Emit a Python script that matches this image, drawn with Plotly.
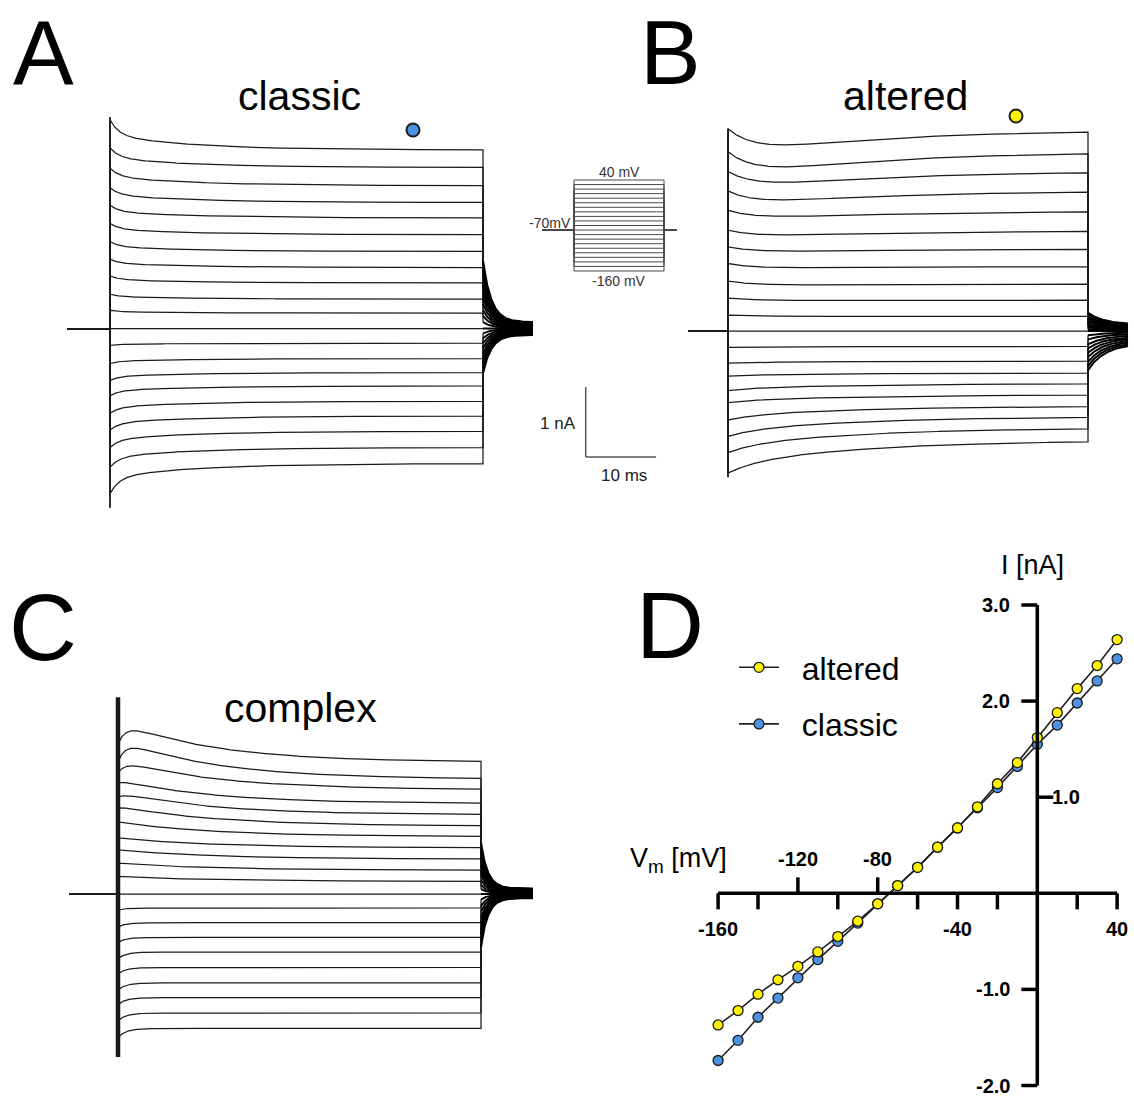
import numpy as np
import plotly.graph_objects as go

W, H = 1134, 1098
FONT = "Liberation Sans, Arial, Helvetica, sans-serif"

# ---------------- data ----------------
V_STEPS = [40, 30, 20, 10, 0, -10, -20, -30, -40, -50, -60, -70,
           -80, -90, -100, -110, -120, -130, -140, -150, -160]   # mV, top -> bottom
T_STEP = 53.0      # ms, duration of the voltage step
V_HOLD = -70

# Panel A (classic): steady state current (nA, relative to holding) and relaxation amplitudes
A_SS = [2.55, 2.30, 2.04, 1.80, 1.58, 1.34, 1.10, 0.87, 0.65, 0.42, 0.22, 0.00,
        -0.21, -0.43, -0.63, -0.82, -1.04, -1.25, -1.47, -1.70, -1.93]
A_FAST = [0.22, 0.14, 0.12, 0.10, 0.09, 0.08, 0.07, 0.06, 0.05, 0.035, 0.02, 0.0,
          -0.015, -0.035, -0.055, -0.07, -0.085, -0.10, -0.115, -0.14, -0.23]
A_SLOW = [0.21, 0.14, 0.13, 0.11, 0.09, 0.08, 0.07, 0.06, 0.05, 0.035, 0.02, 0.0,
          -0.015, -0.035, -0.055, -0.07, -0.085, -0.10, -0.115, -0.14, -0.20]
A_TAIL0 = [0.97, 0.88, 0.79, 0.70, 0.62, 0.53, 0.44, 0.35, 0.26, 0.18, 0.09, 0.0,
           -0.07, -0.14, -0.21, -0.28, -0.36, -0.43, -0.50, -0.57, -0.64]
A_RESID = [0.09, 0.08, 0.07, 0.065, 0.055, 0.05, 0.04, 0.03, 0.025, 0.015, 0.01, 0.0,
           -0.01, -0.02, -0.03, -0.04, -0.05, -0.06, -0.07, -0.08, -0.09]
A_CAP = [3.02, -2.56]
A_TAU = dict(fast=1.3, slow=12.0, tail=1.2)

# Panel B (altered)
B_SS = [2.87, 2.56, 2.28, 2.00, 1.71, 1.43, 1.17, 0.92, 0.67, 0.44, 0.21, 0.00,
        -0.22, -0.43, -0.60, -0.75, -0.91, -1.07, -1.22, -1.38, -1.56]
B_FAST = [0.42, 0.40, 0.29, 0.24, 0.15, 0.12, 0.09, 0.08, 0.067, 0.036, 0.015, 0.0,
          -0.004, -0.008, -0.012, -0.027, -0.031, -0.054, -0.077, -0.096, -0.127]
B_SLOW = [-0.40, -0.40, -0.29, -0.24, -0.137, -0.11, -0.06, -0.037, -0.024, -0.007, 0.0, 0.0,
          -0.010, -0.021, -0.031, -0.073, -0.083, -0.146, -0.209, -0.261, -0.344]
B_TAIL0 = [0.26, 0.24, 0.21, 0.19, 0.17, 0.14, 0.12, 0.09, 0.07, 0.05, 0.02, 0.0,
           -0.06, -0.12, -0.19, -0.25, -0.31, -0.37, -0.44, -0.50, -0.56]
B_RESID = [0.09, 0.08, 0.07, 0.065, 0.055, 0.05, 0.04, 0.03, 0.025, 0.015, 0.01, 0.0,
           -0.02, -0.04, -0.06, -0.08, -0.10, -0.12, -0.14, -0.16, -0.18]
B_CAP = [2.89, -2.09]
B_TAU = dict(fast=4.0, slow=20.0, tail=2.5)

# Panel C (complex)
C_SS = [1.88, 1.64, 1.49, 1.29, 1.13, 0.97, 0.82, 0.66, 0.50, 0.34, 0.18, 0.00,
        -0.20, -0.41, -0.62, -0.83, -1.05, -1.27, -1.48, -1.70, -1.92]
C_E0 = [0.26, 0.25, 0.24, 0.30, 0.26, 0.26, 0.21, 0.14, 0.13, 0.10, 0.07, 0.0,
        0.0, 0.0, 0.0, 0.0, 0.0, 0.0, 0.0, 0.0, 0.0]
C_H = [0.32, 0.32, 0.19, 0.04, 0.06, 0.03, 0.0, 0.0, 0.0, 0.0, 0.0, 0.0,
       0.0, 0.0, 0.0, 0.0, 0.0, 0.0, 0.0, 0.0, 0.0]
C_N = [0.0, 0.0, 0.0, 0.0, 0.0, 0.0, 0.0, 0.0, 0.0, 0.0, 0.0, 0.0,
       -0.03, -0.06, -0.07, -0.09, -0.09, -0.10, -0.10, -0.11, -0.13]
C_TAIL0 = [0.73, 0.66, 0.60, 0.53, 0.46, 0.40, 0.33, 0.27, 0.20, 0.13, 0.07, 0.0,
           -0.08, -0.17, -0.25, -0.34, -0.42, -0.51, -0.59, -0.68, -0.76]
C_RESID = [0.08, 0.07, 0.065, 0.06, 0.05, 0.045, 0.04, 0.03, 0.02, 0.015, 0.01, 0.0,
           -0.007, -0.013, -0.02, -0.027, -0.033, -0.04, -0.047, -0.053, -0.06]
C_CAP = [2.81, -2.33]
C_TAU = dict(act=1.2, inact=14.0, neg=1.2, tail=1.0)

# Panel D (I-V relation)
IV_V = [-160, -150, -140, -130, -120, -110, -100, -90, -80, -70, -60,
        -50, -40, -30, -20, -10, 0, 10, 20, 30, 40]
IV_ALTERED = [-1.37, -1.22, -1.05, -0.90, -0.76, -0.61, -0.45, -0.29, -0.11, 0.08, 0.27,
              0.48, 0.68, 0.90, 1.14, 1.36, 1.62, 1.88, 2.13, 2.37, 2.64]
IV_CLASSIC = [-1.74, -1.53, -1.29, -1.09, -0.88, -0.69, -0.50, -0.31, -0.11, 0.08, 0.27,
              0.48, 0.68, 0.89, 1.10, 1.32, 1.55, 1.75, 1.98, 2.21, 2.44]
X_TICKS = [-160, -140, -120, -100, -80, -60, -40, -20, 20, 40]
X_TICKS_UP = [-120, -80]
X_TICK_LABELS = {-160: "-160", -120: "-120", -80: "-80", -40: "-40", 40: "40"}
Y_TICKS = [3.0, 2.0, 1.0, -1.0, -2.0]
Y_TICK_LABELS = {3.0: "3.0", 2.0: "2.0", 1.0: "1.0", -1.0: "-1.0", -2.0: "-2.0"}
Y_TICKS_RIGHT = [1.0]

YELLOW = "#FFF200"
BLUE = "#4D92E0"
TRACE_COLOR = "#1a1a1a"

# ---------------- geometry helpers ----------------
def xdom(p0, p1):
    return [p0 / W, p1 / W]

def ydom(ptop, pbot):
    return [1 - pbot / H, 1 - ptop / H]

def xrng(p0, p1, pzero, s):
    return [(p0 - pzero) / s, (p1 - pzero) / s]

def yrng(ptop, pbot, pzero, s):
    return [(pzero - pbot) / s, (pzero - ptop) / s]

def px(x):
    return x / W

def py(y):
    return 1 - y / H

NA_PX = 70.0   # pixels per nA in the trace panels
PANELS = {
    "A": dict(t0=110, tend=483, i0=328.5, pre=67, post=533, box=(45, 700, 85, 565)),
    "B": dict(t0=728, tend=1088, i0=331.0, pre=688, post=1128, box=(680, 1134, 100, 520)),
    "C": dict(t0=118, tend=481, i0=894.0, pre=69, post=533, box=(45, 560, 680, 1080)),
}
for p in PANELS.values():
    p["sx"] = (p["tend"] - p["t0"]) / T_STEP
    p["t_pre"] = (p["pre"] - p["t0"]) / p["sx"]
    p["t_post"] = (p["post"] - p["tend"]) / p["sx"]

t = np.linspace(0.0, T_STEP, 600)

def build(bodies, tails0, resids, tau_tail, p):
    bx, by, tx, ty = [], [], [], []
    tp = np.linspace(0.0, p["t_post"], 150)
    for body, t0v, rv in zip(bodies, tails0, resids):
        bx += [p["t_pre"], 0.0] + list(t) + [T_STEP, None]
        by += [0.0, 0.0] + list(body) + [t0v, None]
        tx += list(T_STEP + tp) + [None]
        ty += list(rv + (t0v - rv) * np.exp(-tp / tau_tail)) + [None]
    return bx, by, tx, ty

fig = go.Figure()

pA, pB, pC = PANELS["A"], PANELS["B"], PANELS["C"]
bodiesA = [A_SS[i] + A_FAST[i] * np.exp(-t / A_TAU["fast"]) + A_SLOW[i] * np.exp(-t / A_TAU["slow"])
           for i in range(len(V_STEPS))]
bodiesB = [B_SS[i] + B_FAST[i] * np.exp(-t / B_TAU["fast"]) + B_SLOW[i] * np.exp(-t / B_TAU["slow"])
           for i in range(len(V_STEPS))]
bodiesC = [C_SS[i]
           + (C_E0[i] + C_H[i] * (1 - np.exp(-t / C_TAU["act"]))) * np.exp(-t / C_TAU["inact"])
           + C_N[i] * np.exp(-t / C_TAU["neg"])
           for i in range(len(V_STEPS))]

panel_traces = [
    (build(bodiesA, A_TAIL0, A_RESID, A_TAU["tail"], pA), "", A_CAP, 1.8),
    (build(bodiesB, B_TAIL0, B_RESID, B_TAU["tail"], pB), "2", B_CAP, 1.8),
    (build(bodiesC, C_TAIL0, C_RESID, C_TAU["tail"], pC), "3", C_CAP, 4.5),
]
for (bx, by, tx, ty), ax, cap, capw in panel_traces:
    fig.add_trace(go.Scatter(x=bx, y=by, mode="lines", xaxis="x" + ax, yaxis="y" + ax,
                             line=dict(color=TRACE_COLOR, width=1.25), showlegend=False,
                             hoverinfo="skip", connectgaps=False))
    fig.add_trace(go.Scatter(x=tx, y=ty, mode="lines", xaxis="x" + ax, yaxis="y" + ax,
                             line=dict(color="#000000", width=2.0), showlegend=False,
                             hoverinfo="skip", connectgaps=False))
    fig.add_trace(go.Scatter(x=[0, 0], y=cap, mode="lines", xaxis="x" + ax, yaxis="y" + ax,
                             line=dict(color=TRACE_COLOR, width=capw), showlegend=False,
                             hoverinfo="skip"))

# Voltage protocol inset (axis 5): time in ms, voltage in mV
INS = dict(t0=574, tend=664, v_top_px=180, v_bot_px=271, pre=542, post=677)
ins_sx = (INS["tend"] - INS["t0"]) / T_STEP
ins_sy = (INS["v_bot_px"] - INS["v_top_px"]) / (max(V_STEPS) - min(V_STEPS))
ins_v0 = INS["v_top_px"] + max(V_STEPS) * ins_sy
ins_pre = (INS["pre"] - INS["t0"]) / ins_sx
ins_post = T_STEP + (INS["post"] - INS["tend"]) / ins_sx
xi, yi = [], []
for v in V_STEPS:
    xi += [ins_pre, 0, 0, T_STEP, T_STEP, ins_post, None]
    yi += [V_HOLD, V_HOLD, v, v, V_HOLD, V_HOLD, None]
fig.add_trace(go.Scatter(x=xi, y=yi, mode="lines", xaxis="x5", yaxis="y5",
                         line=dict(color="#4a4a4a", width=1.0), showlegend=False,
                         hoverinfo="skip"))

# Panel D traces (altered drawn last -> on top; legend ranks put it first)
fig.add_trace(go.Scatter(x=IV_V, y=IV_CLASSIC, mode="lines+markers", name="\u00a0\u00a0classic",
                         xaxis="x4", yaxis="y4", legendrank=2, legendgroup="classic",
                         line=dict(color="#222222", width=1.6),
                         marker=dict(size=10, color=BLUE, line=dict(color="#1a1a1a", width=1.3))))
fig.add_trace(go.Scatter(x=IV_V, y=IV_ALTERED, mode="lines+markers", name="\u00a0\u00a0altered",
                         xaxis="x4", yaxis="y4", legendrank=1, legendgroup="altered",
                         line=dict(color="#222222", width=1.6),
                         marker=dict(size=10, color=YELLOW, line=dict(color="#1a1a1a", width=1.3))))

# D geometry
D = dict(x_zero=1037.3, x_s=1.995, y_zero=893.3, y_s=96.1, box=(690, 1134, 590, 1098))
TICK_PX = 16

shapes = []
annotations = []
shapes.append(dict(type="line", xref="x4", yref="y4", x0=min(IV_V), x1=max(IV_V), y0=0, y1=0,
                   line=dict(color="black", width=3.5)))
shapes.append(dict(type="line", xref="x4", yref="y4", x0=0, x1=0, y0=min(Y_TICKS), y1=max(Y_TICKS),
                   line=dict(color="black", width=3.5)))
tly = TICK_PX / D["y_s"]
tlx = TICK_PX / D["x_s"]
for v in X_TICKS:
    sgn = 1 if v in X_TICKS_UP else -1
    shapes.append(dict(type="line", xref="x4", yref="y4", x0=v, x1=v, y0=0, y1=sgn * tly,
                       line=dict(color="black", width=3.5)))
for v, lab in X_TICK_LABELS.items():
    up = v in X_TICKS_UP
    annotations.append(dict(xref="x4", yref="y4", x=v, y=(34 if up else -36) / D["y_s"],
                            text=lab, showarrow=False, xanchor="center", yanchor="middle",
                            font=dict(size=20, family=FONT, color="black", weight="bold")))
for v in Y_TICKS:
    sgn = 1 if v in Y_TICKS_RIGHT else -1
    shapes.append(dict(type="line", xref="x4", yref="y4", x0=0, x1=sgn * tlx, y0=v, y1=v,
                       line=dict(color="black", width=3.5)))
for v, lab in Y_TICK_LABELS.items():
    right = v in Y_TICKS_RIGHT
    annotations.append(dict(xref="x4", yref="y4", x=(13 if right else -25) / D["x_s"], y=v,
                            text=lab, showarrow=False, xanchor="left" if right else "right",
                            yanchor="middle",
                            font=dict(size=20, family=FONT, color="black", weight="bold")))
annotations.append(dict(xref="paper", yref="paper", x=px(1032), y=py(565), text="I [nA]",
                        showarrow=False, xanchor="center", yanchor="middle",
                        font=dict(size=27, family=FONT, color="black")))
annotations.append(dict(xref="paper", yref="paper", x=px(729), y=py(860),
                        text="V<sub>m</sub> [mV]", showarrow=False, xanchor="right",
                        yanchor="middle", font=dict(size=27, family=FONT, color="black")))

# scale bar (in panel A data units)
SB_T = (585.7 - pA["t0"]) / pA["sx"]
SB_I = (pA["i0"] - 457) / NA_PX
SB_LEN_T, SB_LEN_I = 10, 1
shapes.append(dict(type="line", xref="x", yref="y", x0=SB_T, x1=SB_T, y0=SB_I, y1=SB_I + SB_LEN_I,
                   line=dict(color="#555555", width=1.5)))
shapes.append(dict(type="line", xref="x", yref="y", x0=SB_T, x1=SB_T + SB_LEN_T, y0=SB_I, y1=SB_I,
                   line=dict(color="#555555", width=1.5)))
annotations.append(dict(xref="paper", yref="paper", x=px(578), y=py(423), text="1 nA",
                        showarrow=False, xanchor="right", yanchor="middle",
                        font=dict(size=17, family=FONT, color="#222")))
annotations.append(dict(xref="paper", yref="paper", x=px(624), y=py(475), text="10 ms",
                        showarrow=False, xanchor="center", yanchor="middle",
                        font=dict(size=17, family=FONT, color="#222")))

# inset labels
annotations.append(dict(xref="paper", yref="paper", x=px(619), y=py(172), text="40 mV",
                        showarrow=False, xanchor="center", yanchor="middle",
                        font=dict(size=14, family=FONT, color="#333")))
annotations.append(dict(xref="paper", yref="paper", x=px(619), y=py(281), text="-160 mV",
                        showarrow=False, xanchor="center", yanchor="middle",
                        font=dict(size=14, family=FONT, color="#333")))
annotations.append(dict(xref="paper", yref="paper", x=px(573), y=py(223), text="-70mV",
                        showarrow=False, xanchor="right", yanchor="middle",
                        font=dict(size=14, family=FONT, color="#333")))

# panel letters and titles
for lab, x in [("A", 43), ("B", 670)]:
    annotations.append(dict(xref="paper", yref="paper", x=px(x), y=py(0.5), text=lab,
                            showarrow=False, xanchor="center", yanchor="top",
                            font=dict(size=91, family=FONT, color="black")))
for lab, x, y in [("C", 43, 627), ("D", 670, 625)]:
    annotations.append(dict(xref="paper", yref="paper", x=px(x), y=py(y), text=lab,
                            showarrow=False, xanchor="center", yanchor="middle",
                            font=dict(size=94, family=FONT, color="black")))
for lab, x, y in [("classic", 299, 96), ("altered", 905, 96), ("complex", 300, 708)]:
    annotations.append(dict(xref="paper", yref="paper", x=px(x), y=py(y), text=lab,
                            showarrow=False, xanchor="center", yanchor="middle",
                            font=dict(size=41, family=FONT, color="black")))

# coloured identifier dots
for (cx, cy, col) in [(413, 130, BLUE), (1016, 116, YELLOW)]:
    r = 6.5
    shapes.append(dict(type="circle", xref="paper", yref="paper",
                       x0=px(cx - r), x1=px(cx + r), y0=py(cy + r), y1=py(cy - r),
                       fillcolor=col, line=dict(color="#1a1a1a", width=2)))

def trace_axes(p):
    b = p["box"]
    return (dict(domain=xdom(b[0], b[1]), range=xrng(b[0], b[1], p["t0"], p["sx"]), visible=False),
            dict(domain=ydom(b[2], b[3]), range=yrng(b[2], b[3], p["i0"], NA_PX), visible=False))

axA = trace_axes(pA)
axB = trace_axes(pB)
axC = trace_axes(pC)
bD = D["box"]
ins_box = (515, 700, 150, 300)

layout = dict(
    width=W, height=H, margin=dict(l=0, r=0, t=0, b=0),
    paper_bgcolor="white", plot_bgcolor="rgba(0,0,0,0)",
    font=dict(family=FONT, color="black"),
    xaxis=axA[0], yaxis=axA[1],
    xaxis2=axB[0], yaxis2=axB[1],
    xaxis3=axC[0], yaxis3=axC[1],
    xaxis4=dict(domain=xdom(bD[0], bD[1]), range=xrng(bD[0], bD[1], D["x_zero"], D["x_s"]), visible=False),
    yaxis4=dict(domain=ydom(bD[2], bD[3]), range=yrng(bD[2], bD[3], D["y_zero"], D["y_s"]), visible=False),
    xaxis5=dict(domain=xdom(ins_box[0], ins_box[1]),
                range=xrng(ins_box[0], ins_box[1], INS["t0"], ins_sx), visible=False),
    yaxis5=dict(domain=ydom(ins_box[2], ins_box[3]),
                range=yrng(ins_box[2], ins_box[3], ins_v0, ins_sy), visible=False),
    showlegend=True,
    legend=dict(x=px(734), y=py(640), xanchor="left", yanchor="top",
                font=dict(size=32, family=FONT, color="black"),
                bgcolor="rgba(0,0,0,0)", traceorder="grouped", tracegroupgap=12,
                itemwidth=40),
    shapes=shapes, annotations=annotations,
)
fig.update_layout(**layout)
fig.write_html("out.html")
